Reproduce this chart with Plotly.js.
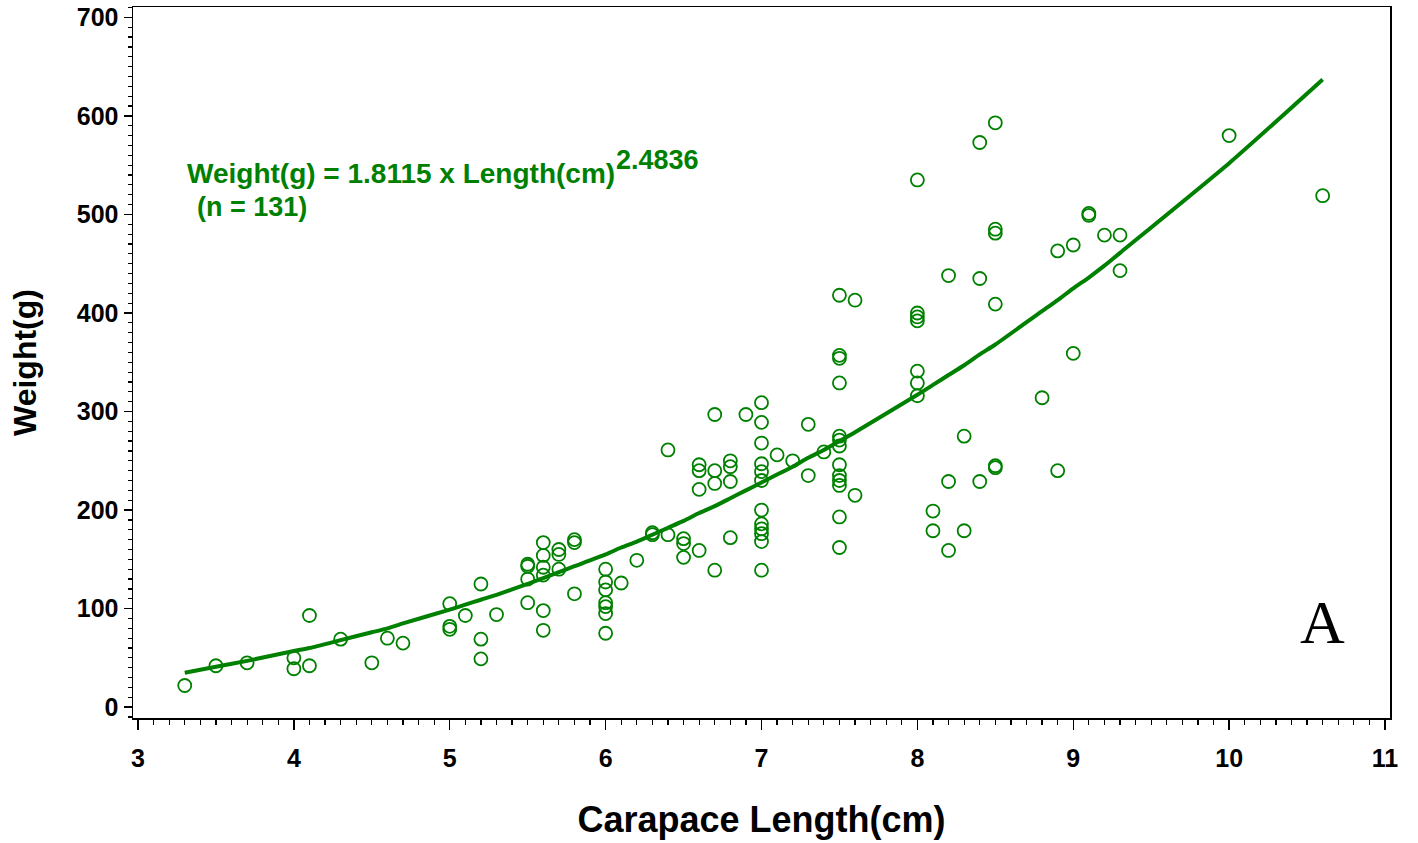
<!DOCTYPE html>
<html>
<head>
<meta charset="utf-8">
<script src="https://cdn.plot.ly/plotly-3.0.1.min.js"></script>
<style>html,body{margin:0;padding:0;background:#fff;}</style>
</head>
<body>
<div id="chart" style="width:1418px;height:843px;"></div>
<script>
// Observed data: carapace length (cm) and weight (g)
const lengthCm = [
  3.3, 3.5, 3.7, 4.0, 4.0, 4.1, 4.1, 4.3, 4.5, 4.6, 4.7,
  5.0, 5.0, 5.0, 5.1, 5.2, 5.2, 5.2, 5.3,
  5.5, 5.5, 5.5, 5.5, 5.6, 5.6, 5.6, 5.6, 5.6, 5.6,
  5.7, 5.7, 5.7, 5.8, 5.8, 5.8,
  6.0, 6.0, 6.0, 6.0, 6.0, 6.0, 6.0, 6.1, 6.2, 6.3, 6.3, 6.4, 6.4,
  6.5, 6.5, 6.5, 6.6, 6.6, 6.6, 6.6, 6.7, 6.7, 6.7, 6.7,
  6.8, 6.8, 6.8, 6.8, 6.9,
  7.0, 7.0, 7.0, 7.0, 7.0, 7.0, 7.0, 7.0, 7.0, 7.0, 7.0, 7.0,
  7.1, 7.2, 7.3, 7.3, 7.4,
  7.5, 7.5, 7.5, 7.5, 7.5, 7.5, 7.5, 7.5, 7.5, 7.5, 7.5, 7.5, 7.5,
  7.6, 7.6,
  8.0, 8.0, 8.0, 8.0, 8.0, 8.0, 8.0, 8.1, 8.1, 8.2, 8.2, 8.2, 8.3, 8.3,
  8.4, 8.4, 8.4, 8.5, 8.5, 8.5, 8.5, 8.5, 8.5,
  8.8, 8.9, 8.9, 9.0, 9.0, 9.1, 9.1, 9.2, 9.3, 9.3, 10.0, 10.6
];
const weightG = [
  22, 42, 45, 50, 39, 93, 42, 69, 45, 70, 65,
  105, 82, 79, 93, 125, 69, 49, 94,
  145, 143, 130, 106, 167, 154, 142, 134, 98, 78,
  160, 155, 140, 170, 167, 115,
  140, 127, 119, 106, 102, 95, 75, 126, 149, 177, 175, 175, 261,
  171, 166, 152, 159, 246, 240, 221, 297, 240, 227, 139,
  250, 244, 229, 172, 297,
  309, 289, 268, 247, 239, 230, 200, 186, 181, 176, 168, 139,
  256, 250, 287, 235, 259,
  418, 357, 354, 329, 275, 271, 265, 246, 235, 230, 225, 193, 162,
  413, 215,
  535, 400, 396, 392, 341, 329, 316, 199, 179, 438, 229, 159, 275, 179,
  573, 435, 229, 593, 485, 481, 409, 245, 243,
  314, 463, 240, 469, 359, 501, 499, 479, 479, 443, 580, 519
];

const curveX = [3.3, 3.5, 3.7, 4.0, 4.1, 4.3, 4.5, 4.6, 4.7, 5.0, 5.1, 5.2, 5.3, 5.5, 5.6, 5.7, 5.8,
  6.0, 6.1, 6.2, 6.3, 6.4, 6.5, 6.6, 6.7, 6.8, 6.9, 7.0, 7.1, 7.2, 7.3, 7.4, 7.5, 7.6,
  8.0, 8.1, 8.2, 8.3, 8.4, 8.5, 8.8, 8.9, 9.0, 9.1, 9.2, 9.3, 10.0, 10.6];
const curveY = [35, 41, 47, 57, 60, 68, 76, 80, 85, 99, 104, 109, 114, 125, 131, 137, 143,
  155, 162, 168, 175, 182, 189, 197, 204, 212, 220, 228, 236, 244, 253, 261, 270, 279,
  317, 327, 337, 347, 358, 368, 402, 413, 425, 436, 448, 461, 552, 637];

const xTickVals = [3, 4, 5, 6, 7, 8, 9, 10, 11];
const yTickVals = [0, 100, 200, 300, 400, 500, 600, 700];

const equationText = 'Weight(g) = 1.8115 x Length(cm)';
const exponentText = '2.4836';
const countText = '(n = 131)';
const panelLabel = 'A';

const GREEN = '#008000';
const boldFont = {family: 'Liberation Sans, Arial, sans-serif', weight: 'bold', color: '#000'};

const traces = [
  {
    x: lengthCm, y: weightG, type: 'scatter', mode: 'markers',
    marker: {symbol: 'circle-open', size: 13, color: GREEN, line: {color: GREEN, width: 1.8}},
    hoverinfo: 'x+y', showlegend: false
  },
  {
    x: curveX, y: curveY, type: 'scatter', mode: 'lines',
    line: {color: GREEN, width: 4, shape: 'spline', smoothing: 0.6},
    hoverinfo: 'skip', showlegend: false
  }
];

const layout = {
  width: 1418, height: 843,
  margin: {l: 133, r: 28, t: 7, b: 125, pad: 0},
  paper_bgcolor: '#fff', plot_bgcolor: '#fff',
  showlegend: false,
  xaxis: {
    range: [2.968, 11.032], tickmode: 'array', tickvals: xTickVals,
    ticks: 'outside', ticklen: 10, tickwidth: 1.5, tickcolor: '#000',
    showline: true, linecolor: '#000', linewidth: 1.5, mirror: true,
    showgrid: false, zeroline: false,
    tickfont: Object.assign({size: 25}, boldFont),
    ticklabelstandoff: 7,
    minor: {dtick: 0.1, ticks: 'outside', ticklen: 5, tickwidth: 1.2, tickcolor: '#000', showgrid: false},
    title: {text: 'Carapace Length(cm)', font: Object.assign({size: 36}, boldFont), standoff: 36},
    automargin: false
  },
  yaxis: {
    range: [-11, 710.5], tickmode: 'array', tickvals: yTickVals,
    ticks: 'outside', ticklen: 8, tickwidth: 1.5, tickcolor: '#000',
    showline: true, linecolor: '#000', linewidth: 1.5, mirror: true,
    showgrid: false, zeroline: false,
    tickfont: Object.assign({size: 25}, boldFont),
    minor: {dtick: 10, ticks: 'outside', ticklen: 4, tickwidth: 1.2, tickcolor: '#000', showgrid: false},
    title: {text: 'Weight(g)', font: Object.assign({size: 32}, boldFont), standoff: 30},
    automargin: false
  },
  annotations: [
    {xref: 'paper', yref: 'paper', x: 0.0414, y: 0.7665, xanchor: 'left', yanchor: 'middle',
     text: equationText, showarrow: false,
     font: {family: 'Liberation Sans, Arial, sans-serif', weight: 'bold', size: 28, color: GREEN}},
    {xref: 'paper', yref: 'paper', x: 0.383, y: 0.7848, xanchor: 'left', yanchor: 'middle',
     text: exponentText, showarrow: false,
     font: {family: 'Liberation Sans, Arial, sans-serif', weight: 'bold', size: 27, color: GREEN}},
    {xref: 'paper', yref: 'paper', x: 0.0493, y: 0.7187, xanchor: 'left', yanchor: 'middle',
     text: countText, showarrow: false,
     font: {family: 'Liberation Sans, Arial, sans-serif', weight: 'bold', size: 27, color: GREEN}},
    {xref: 'paper', yref: 'paper', x: 0.946, y: 0.135, xanchor: 'center', yanchor: 'middle',
     text: panelLabel, showarrow: false,
     font: {family: 'Liberation Serif, Times New Roman, serif', size: 62, color: '#000'}}
  ]
};

Plotly.newPlot('chart', traces, layout, {staticPlot: true, displayModeBar: false});
</script>
</body>
</html>
